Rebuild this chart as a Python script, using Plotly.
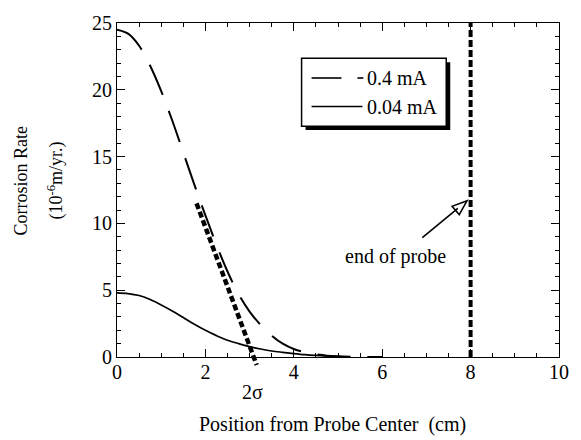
import plotly.graph_objects as go

# ---- data ----
pos_04 = [0, 0.25, 0.5, 0.75, 1.0, 1.25, 1.5, 1.75, 2.0, 2.25, 2.5, 2.75, 3.0,
          3.25, 3.5, 3.75, 4.0, 4.25, 4.5, 4.75, 5.0, 5.5, 6.0]
rate_04 = [24.5, 24.2, 23.3, 21.8, 19.9, 17.7, 15.3, 12.9, 10.6, 8.4, 6.4, 4.7, 3.4,
           2.4, 1.6, 1.0, 0.6, 0.35, 0.2, 0.1, 0.05, 0.01, 0.0]

pos_004 = [0, 0.25, 0.5, 0.75, 1.0, 1.25, 1.5, 1.75, 2.0, 2.25, 2.5, 2.75, 3.0,
           3.25, 3.5, 3.75, 4.0, 4.25, 4.5, 4.75, 5.0, 5.2]
rate_004 = [4.8, 4.75, 4.6, 4.3, 3.9, 3.45, 2.95, 2.45, 2.0, 1.6, 1.25, 1.0, 0.78,
            0.6, 0.45, 0.35, 0.26, 0.18, 0.12, 0.07, 0.03, 0.0]

sigma_x = [1.8, 3.16]
sigma_y = [11.5, -0.6]
probe_end_x = 8
arrow_tail = [6.84, 8.75]
arrow_head = [7.92, 11.7]
label_end = [6.3, 7.5]
label_sigma = [3.07, -2.6]

x_range = [0, 10]
y_range = [0, 25]
x_ticks = [0, 2, 4, 6, 8, 10]
y_ticks = [0, 5, 10, 15, 20, 25]

FONT = "Liberation Serif"

fig = go.Figure()
fig.add_trace(go.Scatter(x=pos_04, y=rate_04, mode="lines", name="- 0.4 mA",
                         line=dict(color="black", width=2, dash="33px,17px", shape="spline"),
                         showlegend=False))
fig.add_trace(go.Scatter(x=pos_004, y=rate_004, mode="lines", name="0.04 mA",
                         line=dict(color="black", width=1.7, shape="spline"),
                         showlegend=False))

shapes = []
# 2 sigma tangent line (extends below the axis, so y in paper units)
shapes.append(dict(type="line", xref="x", yref="paper",
                   x0=sigma_x[0], y0=sigma_y[0] / y_range[1],
                   x1=sigma_x[1], y1=sigma_y[1] / y_range[1],
                   line=dict(color="black", width=4.5, dash="6px,3px")))
# end of probe line
shapes.append(dict(type="line", xref="x", yref="paper",
                   x0=probe_end_x, x1=probe_end_x, y0=0, y1=1,
                   line=dict(color="black", width=4, dash="7px,3px")))
# hollow arrow head
shapes.append(dict(type="path", xref="x", yref="y", xsizemode="pixel", ysizemode="pixel",
                   xanchor=arrow_head[0], yanchor=arrow_head[1],
                   path="M0,0 L-15.0,-5.6 L-7.8,-13.9 Z",
                   fillcolor="white", line=dict(color="black", width=1.5)))

# legend box (manual), paper coords
L, R, T, B = 0.4176, 0.7449, 0.8941, 0.6912
dx, dy = 4 / 443, 4 / 340
shapes.append(dict(type="rect", xref="paper", yref="paper",
                   x0=L + dx, x1=R + dx, y0=B - dy, y1=T - dy,
                   fillcolor="black", line=dict(width=0)))
shapes.append(dict(type="rect", xref="paper", yref="paper",
                   x0=L, x1=R, y0=B, y1=T,
                   fillcolor="white", line=dict(color="black", width=1.5)))
r1, r2 = 0.8353, 0.75
shapes.append(dict(type="line", xref="paper", yref="paper", x0=0.4402, x1=0.5079, y0=r1, y1=r1,
                   line=dict(color="black", width=1.6)))
shapes.append(dict(type="line", xref="paper", yref="paper", x0=0.5440, x1=0.5575, y0=r1, y1=r1,
                   line=dict(color="black", width=1.6)))
shapes.append(dict(type="line", xref="paper", yref="paper", x0=0.4402, x1=0.5553, y0=r2, y1=r2,
                   line=dict(color="black", width=1.4)))

annotations = [
    dict(x=arrow_head[0], y=arrow_head[1], ax=arrow_tail[0], ay=arrow_tail[1],
         xref="x", yref="y", axref="x", ayref="y", showarrow=True,
         arrowhead=0, arrowwidth=1.6, arrowcolor="black", standoff=12, text=" "),
    dict(x=label_end[0], y=label_end[1], xref="x", yref="y", text="end of probe",
         showarrow=False, font=dict(family=FONT, size=20, color="black")),
    dict(x=label_sigma[0], y=label_sigma[1] / y_range[1], xref="x", yref="paper", text="2σ",
         xanchor="center", yanchor="middle",
         showarrow=False, font=dict(family=FONT, size=20, color="black")),
    dict(x=0.562, y=r1, xref="paper", yref="paper", xanchor="left", yanchor="middle",
         text="0.4 mA", showarrow=False, font=dict(family=FONT, size=20, color="black")),
    dict(x=0.562, y=r2, xref="paper", yref="paper", xanchor="left", yanchor="middle",
         text="0.04 mA", showarrow=False, font=dict(family=FONT, size=20, color="black")),
    dict(x=0.4876, y=-0.203, xref="paper", yref="paper", xanchor="center", yanchor="middle",
         text="Position from Probe Center  (cm)", showarrow=False,
         font=dict(family=FONT, size=20, color="black")),
    dict(x=-0.2167, y=0.529, xref="paper", yref="paper", xanchor="center", yanchor="middle",
         text="Corrosion Rate", textangle=-90, showarrow=False,
         font=dict(family=FONT, size=18, color="black")),
    dict(x=-0.1377, y=0.529, xref="paper", yref="paper", xanchor="center", yanchor="middle",
         text="(10<sup>-6</sup>m/yr.)", textangle=-90, showarrow=False,
         font=dict(family=FONT, size=18, color="black")),
]

axis_common = dict(showgrid=False, zeroline=False, showline=True, linecolor="black",
                   linewidth=1, mirror="ticks", ticks="inside", ticklen=8, tickwidth=1,
                   tickcolor="black", tickfont=dict(family=FONT, size=20, color="black"))

fig.update_layout(
    width=581, height=440,
    margin=dict(l=117, r=21, t=17, b=83),
    paper_bgcolor="white", plot_bgcolor="white",
    xaxis=dict(range=x_range, tickvals=x_ticks, ticklabelstandoff=-3,
               minor=dict(dtick=0.5, ticks="inside", ticklen=4, tickcolor="black"),
               **axis_common),
    yaxis=dict(range=y_range, tickvals=y_ticks,
               minor=dict(dtick=1, ticks="inside", ticklen=4, tickcolor="black"),
               **axis_common),
    shapes=shapes,
    annotations=annotations,
    showlegend=False,
)

fig.write_html("out.html")
